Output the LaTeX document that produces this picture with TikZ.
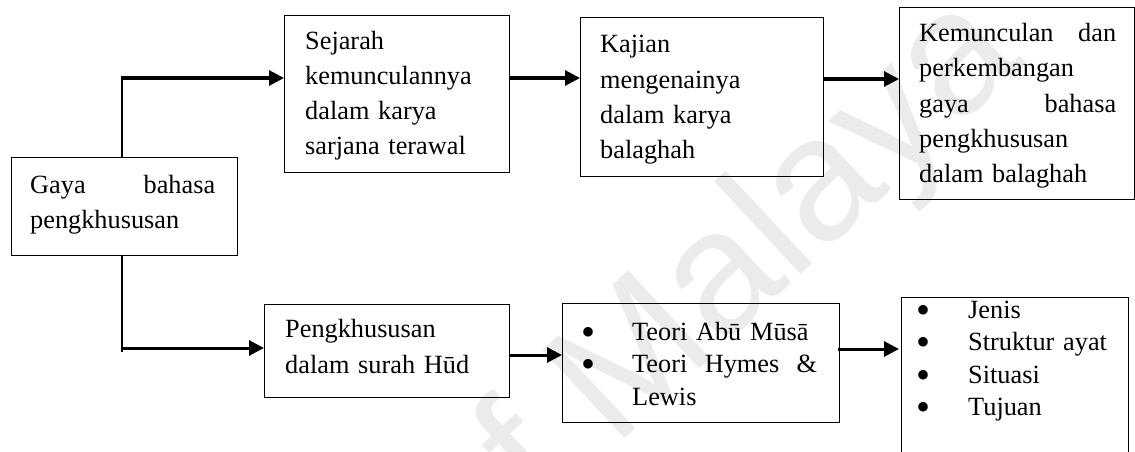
\documentclass[tikz,border=0pt]{standalone}
\usepackage{fontspec}
\setmainfont{Liberation Serif}
\newfontfamily\wmfont{Liberation Sans}
\usetikzlibrary{arrows.meta}
\newcommand{\bulA}{\makebox[51pt][l]{\raisebox{-5pt}{\fontsize{40}{40}\selectfont\textbullet}}}
\newcommand{\bulB}{\makebox[52pt][l]{\raisebox{-5pt}{\fontsize{40}{40}\selectfont\textbullet}}}
\begin{document}
\begin{tikzpicture}[x=1pt,y=-1pt,
  box/.style={draw=black, line width=1.2pt, inner sep=0pt, anchor=north west},
  txt/.style={inner sep=0pt, anchor=base west, align=left,
    font=\fontsize{26.3}{35.3}\selectfont},
  lst/.style={inner sep=0pt, anchor=base west, align=left,
    font=\fontsize{26.3}{32.5}\selectfont},
  conn/.style={line width=3pt, -{Triangle[length=15pt,width=15pt]}},
  stem/.style={line width=2pt},
  wm/.style={text=black!8, font=\wmfont\fontsize{175}{175}\selectfont,
    inner sep=0pt, anchor=base west, rotate=43}]
\useasboundingbox (0,0) rectangle (1135,452);
\fill[white] (0,0) rectangle (1135,452);
% watermark
\node[wm] (wmk) at (472,581) {of Malaya};
% boxes
\node[box, minimum width=226pt, minimum height=98pt] (gaya) at (11,157) {};
\node[box, minimum width=225pt, minimum height=157pt] (sejarah) at (284,15) {};
\node[box, minimum width=243pt, minimum height=159pt] (kajian) at (580,17) {};
\node[box, minimum width=235pt, minimum height=192pt] (kemun) at (899,7) {};
\node[box, minimum width=245pt, minimum height=93pt] (pengk) at (264,304) {};
\node[box, minimum width=277pt, minimum height=119pt] (teori) at (562,303) {};
\node[box, minimum width=227pt, minimum height=180pt] (jenis) at (901,297) {};
% texts
\node[txt, text width=185pt] (gayaT) at (30,193) {Gaya\hfill bahasa\\pengkhususan};
\node[txt, text width=195pt] (sejarahT) at (305,49) {Sejarah\\kemunculannya\\dalam karya\\sarjana terawal};
\node[txt, text width=210pt] (kajianT) at (600,53) {Kajian\\mengenainya\\dalam karya\\balaghah};
\node[txt, text width=197pt] (kemunT) at (919,41.5) {Kemunculan\hfill dan\\perkembangan\\gaya\hfill bahasa\\pengkhususan\\dalam balaghah};
\node[txt, text width=215pt, font=\fontsize{26.3}{36}\selectfont] (pengkT) at (285,337) {Pengkhususan\\dalam surah Hūd};
\node[lst, text width=236pt] (teoriT) at (581,340) {\bulA Teori Abū Mūsā\\\bulA Teori\hfill Hymes\hfill \&\\\hspace*{51pt}Lewis};
\node[lst, text width=200pt] (jenisT) at (916,318) {\bulB Jenis\\\bulB Struktur ayat\\\bulB Situasi\\\bulB Tujuan};
% connectors
\coordinate (up) at (122,78);
\coordinate (down) at (122,348);
\coordinate (r1) at (0,79);
\coordinate (r2) at (0,355);
\coordinate (r3) at (0,349);
\draw[stem] (gaya.north -| up) -- (up);
\draw[conn] ([xshift=-1pt]up) -- (sejarah.west |- up);
\draw[stem] (gaya.south -| down) -- ([yshift=-4pt]down);
\draw[conn] ([xshift=-1pt]down) -- (pengk.west |- down);
\draw[conn] (sejarah.east |- up) -- (kajian.west |- up);
\draw[conn] (kajian.east |- r1) -- (kemun.west |- r1);
\draw[conn] (pengk.east |- r2) -- (teori.west |- r2);
\draw[conn] ([xshift=-2pt]teori.east |- r3) -- ([xshift=-2pt]jenis.west |- r3);
\end{tikzpicture}
\end{document}
